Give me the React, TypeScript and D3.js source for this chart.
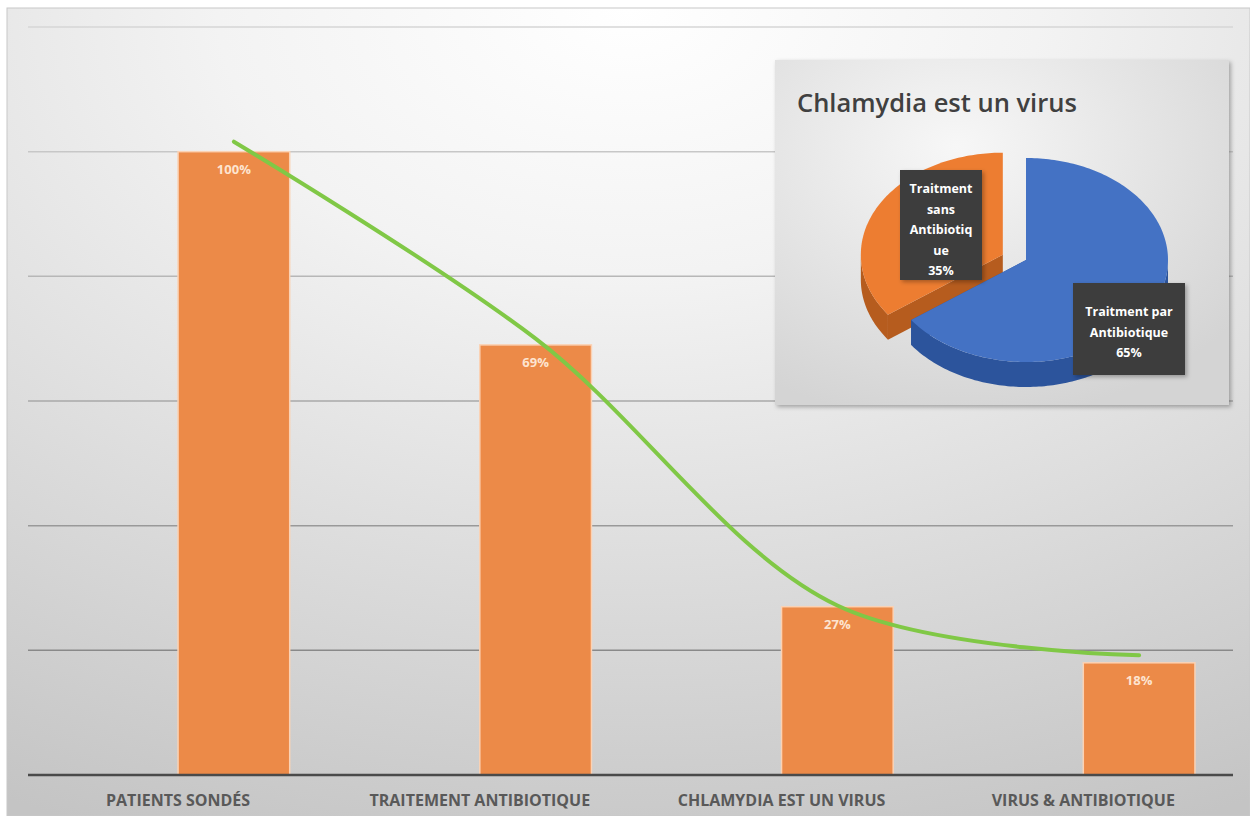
import { FC, useRef, useEffect } from 'react'
import * as d3 from 'd3'

const categories = ['PATIENTS SONDÉS', 'TRAITEMENT ANTIBIOTIQUE', 'CHLAMYDIA EST UN VIRUS', 'VIRUS & ANTIBIOTIQUE']
const barValues = [1.0, 0.69, 0.27, 0.18]
const barLabels = ['100%', '69%', '27%', '18%']
// smoothed green line (sits a little above the bars at both ends)
const lineValues = [1.016, 0.70, 0.272, 0.192]
const yTicks = [0, 0.2, 0.4, 0.6, 0.8, 1.0, 1.2]

const pieTitle = 'Chlamydia est un virus'
const pieNames = ['Traitment par Antibiotique', 'Traitment sans Antibiotique']
const pieValues = [65, 35]
const pieLabelLines = [
  ['Traitment par', 'Antibiotique', '65%'],
  ['Traitment', 'sans', 'Antibiotiq', 'ue', '35%'],
]

const W = 1250
const H = 816

const App: FC = () => {
  const svgRef = useRef<SVGSVGElement>(null)

  useEffect(() => {
    if (!svgRef.current) return
    const svg = d3.select(svgRef.current)
    svg.selectAll('*').remove()
    svg.attr('width', W).attr('height', H)

    const defs = svg.append('defs')
    const bg = defs.append('radialGradient').attr('id', 'bg')
      .attr('cx', '50%').attr('cy', '0%').attr('r', '110%')
    bg.append('stop').attr('offset', '0%').attr('stop-color', '#ffffff')
    bg.append('stop').attr('offset', '30%').attr('stop-color', '#f3f3f3')
    bg.append('stop').attr('offset', '100%').attr('stop-color', '#c4c4c4')

    const inset = defs.append('radialGradient').attr('id', 'inset')
      .attr('cx', '40%').attr('cy', '25%').attr('r', '80%')
    inset.append('stop').attr('offset', '0%').attr('stop-color', '#f7f7f7')
    inset.append('stop').attr('offset', '100%').attr('stop-color', '#d4d4d4')

    const sh = defs.append('filter').attr('id', 'shadow')
      .attr('x', '-10%').attr('y', '-10%').attr('width', '130%').attr('height', '130%')
    sh.append('feDropShadow').attr('dx', 2).attr('dy', 2).attr('stdDeviation', 2)
      .attr('flood-color', '#000').attr('flood-opacity', 0.3)

    svg.append('rect').attr('width', W).attr('height', H).attr('fill', '#ffffff')
    svg.append('rect').attr('x', 7).attr('y', 8).attr('width', W - 7).attr('height', H - 8)
      .attr('fill', 'url(#bg)').attr('stroke', '#c8c8c8').attr('stroke-width', 1)

    const x = d3.scaleBand<string>()
      .domain(categories)
      .range([83, 1290])
      .paddingInner(0.63)
      .paddingOuter(0.315)

    const y = d3.scaleLinear().domain([0, 1.2]).range([775, 27])
    const gridColor = d3.scaleLinear<string>().domain([27, 775]).range(['#d6d6d6', '#7a7a7a'])

    // gridlines
    svg.append('g').selectAll('line')
      .data(yTicks.slice(1))
      .join('line')
      .attr('x1', 28).attr('x2', 1233)
      .attr('y1', d => y(d)).attr('y2', d => y(d))
      .attr('stroke', d => gridColor(y(d)))
      .attr('stroke-width', 1.5)

    // bars
    svg.append('g').selectAll('rect')
      .data(barValues)
      .join('rect')
      .attr('x', (_, i) => x(categories[i])!)
      .attr('y', d => y(d))
      .attr('width', x.bandwidth())
      .attr('height', d => y(0) - y(d))
      .attr('fill', '#ec8a48')
      .attr('stroke', '#fbd2b4')
      .attr('stroke-width', 1.5)

    // baseline
    svg.append('line')
      .attr('x1', 28).attr('x2', 1233)
      .attr('y1', y(0)).attr('y2', y(0))
      .attr('stroke', '#4a4a4a').attr('stroke-width', 2.5)

    // bar value labels
    svg.append('g').selectAll('text')
      .data(barLabels)
      .join('text')
      .attr('x', (_, i) => x(categories[i])! + x.bandwidth() / 2)
      .attr('y', (_, i) => y(barValues[i]) + 22)
      .attr('text-anchor', 'middle')
      .attr('font-family', 'Open Sans, sans-serif')
      .attr('font-weight', 700)
      .attr('font-size', '13px')
      .attr('fill', '#fde4d0')
      .text(d => d)

    // category labels
    svg.append('g').selectAll('text')
      .data(categories)
      .join('text')
      .attr('x', d => x(d)!)
      .attr('y', 806)
      .attr('text-anchor', 'middle')
      .attr('font-family', '"Liberation Sans Narrow", "Open Sans", sans-serif')
      .attr('font-weight', 700)
      .attr('font-size', '16px')
      .attr('fill', '#595959')
      .text(d => d)

    // green smoothed line
    const line = d3.line<number>()
      .x((_, i) => x(categories[i])! + x.bandwidth() / 2)
      .y(d => y(d))
      .curve(d3.curveCatmullRom.alpha(0.5))
    svg.append('path')
      .datum(lineValues)
      .attr('fill', 'none')
      .attr('stroke', '#80c846')
      .attr('stroke-width', 4)
      .attr('stroke-linecap', 'round')
      .attr('d', line)

    // ---- inset pie chart ----
    const box = { x: 775, y: 60, w: 454, h: 345 }
    svg.append('rect')
      .attr('x', box.x).attr('y', box.y).attr('width', box.w).attr('height', box.h)
      .attr('fill', 'url(#inset)')
      .attr('filter', 'url(#shadow)')

    svg.append('text')
      .attr('x', box.x + 22).attr('y', box.y + 52)
      .attr('font-family', 'Open Sans, sans-serif')
      .attr('font-weight', 600)
      .attr('font-size', '25.5px')
      .attr('fill', '#404040')
      .text(pieTitle)

    const cx = 1026, cy = 260, rx = 142, ry = 102, depth = 25
    const pie = d3.pie<number>().sort(null).startAngle(0).endAngle(2 * Math.PI)
    const arcs = pie(pieValues)
    const tops = ['#4472c4', '#ed7d31']
    const sides = ['#2c549c', '#b65c1e']
    const explode = [0, 26]

    const pt = (ox: number, oy: number, a: number, dz = 0): [number, number] =>
      [ox + rx * Math.sin(a), oy - ry * Math.cos(a) + dz]

    const drawSlice = (i: number) => {
      const a = arcs[i]
      const mid = (a.startAngle + a.endAngle) / 2
      const ox = cx + explode[i] * Math.sin(mid)
      const oy = cy - explode[i] * 0.45 * Math.cos(mid)
      const g = svg.append('g')

      // cut faces
      ;[a.startAngle, a.endAngle].forEach(ang => {
        const p = pt(ox, oy, ang)
        g.append('path')
          .attr('d', `M${ox},${oy}L${p[0]},${p[1]}L${p[0]},${p[1] + depth}L${ox},${oy + depth}Z`)
          .attr('fill', sides[i])
      })

      // outer side (visible where the rim faces down)
      const s0 = Math.max(a.startAngle, Math.PI / 2)
      const s1 = Math.min(a.endAngle, 1.5 * Math.PI)
      if (s1 > s0) {
        const angs = d3.range(s0, s1, 0.02).concat([s1])
        const topPts = angs.map(t => pt(ox, oy, t))
        const botPts = angs.map(t => pt(ox, oy, t, depth)).reverse()
        g.append('path')
          .attr('d', d3.line()([...topPts, ...botPts]) + 'Z')
          .attr('fill', sides[i])
      }

      // top face
      const angs = d3.range(a.startAngle, a.endAngle, 0.02).concat([a.endAngle])
      const pts: [number, number][] = [[ox, oy], ...angs.map(t => pt(ox, oy, t))]
      g.append('path')
        .attr('d', d3.line()(pts) + 'Z')
        .attr('fill', tops[i])
    }

    drawSlice(1)
    drawSlice(0)

    // data labels
    const labelBoxes = [
      { x: 1073, y: 283, w: 112, h: 92, cx: 1129, y0: 316 },
      { x: 900, y: 170, w: 82, h: 110, cx: 941, y0: 193 },
    ]
    pieNames.forEach((_, i) => {
      const b = labelBoxes[i]
      svg.append('rect')
        .attr('x', b.x).attr('y', b.y).attr('width', b.w).attr('height', b.h)
        .attr('fill', '#3d3d3d')
        .attr('filter', 'url(#shadow)')
      svg.append('g').selectAll('text')
        .data(pieLabelLines[i])
        .join('text')
        .attr('x', b.cx)
        .attr('y', (_, k) => b.y0 + k * 20.5)
        .attr('text-anchor', 'middle')
        .attr('font-family', 'Open Sans, sans-serif')
        .attr('font-weight', 700)
        .attr('font-size', '12.5px')
        .attr('fill', '#ffffff')
        .text(d => d)
    })
  }, [])

  return (
    <div style={{ position: 'absolute', left: 0, top: 0 }}>
      <svg ref={svgRef} style={{ display: 'block' }} />
    </div>
  )
}

export default App
